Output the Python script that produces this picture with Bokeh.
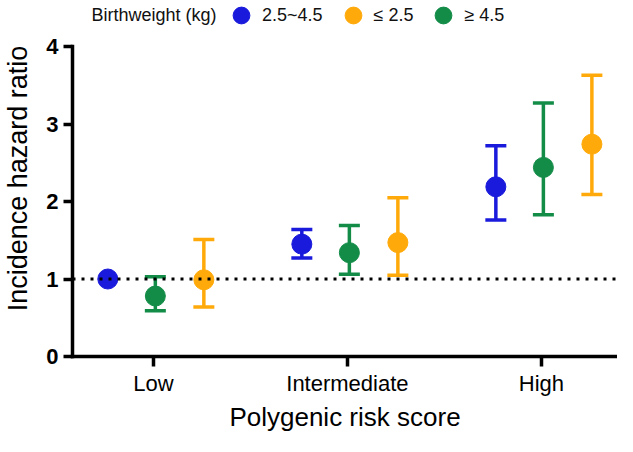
from bokeh.plotting import figure
from bokeh.models import (ColumnDataSource, Range1d, FixedTicker, Whisker, TeeHead,
                          Span, Legend, LegendItem, Label)
from bokeh.embed import file_html
from bokeh.resources import INLINE

# ---------------- data ----------------
categories = ["Low", "Intermediate", "High"]
series_names = ["2.5~4.5", "\u2264 2.5", "\u2265 4.5"]
legend_title = "Birthweight (kg)"

hr_normal = [1.0, 1.45, 2.19]
lo_normal = [float("nan"), 1.27, 1.76]
hi_normal = [float("nan"), 1.64, 2.72]

hr_low = [0.99, 1.47, 2.74]
lo_low = [0.64, 1.05, 2.09]
hi_low = [1.51, 2.05, 3.63]

hr_high = [0.78, 1.34, 2.44]
lo_high = [0.59, 1.06, 1.83]
hi_high = [1.03, 1.69, 3.27]

y_ticks = [0, 1, 2, 3, 4]
y_axis_bounds = (0, 4)
reference_hr = 1

# ---------------- styling ----------------
FONT = "Liberation Sans"
colors = {"normal": "#1A1ADC", "low": "#FFAA0A", "high": "#138C48"}
offsets = {"normal": -0.235, "high": 0.01, "low": 0.26}

p = figure(width=617, height=436, output_backend="svg", toolbar_location=None,
           x_range=Range1d(-0.417, 2.392), y_range=Range1d(0, 4.594),
           min_border_left=65, min_border_right=0, min_border_top=0,
           min_border_bottom=80)
p.outline_line_color = None
p.xgrid.visible = False
p.ygrid.visible = False
p.background_fill_color = "white"
p.border_fill_color = "white"

# reference line
p.add_layout(Span(location=reference_hr, dimension="width", line_color="black",
                  line_width=3, line_dash="3 6"))

series = [
    ("normal", hr_normal, lo_normal, hi_normal),
    ("high", hr_high, lo_high, hi_high),
    ("low", hr_low, lo_low, hi_low),
]
renderers = {}
for key, hr, lo, hi in series:
    xs = [i + offsets[key] for i in range(len(categories))]
    src = ColumnDataSource(dict(x=xs, y=hr, lower=lo, upper=hi))
    c = colors[key]
    w = Whisker(source=src, base="x", lower="lower", upper="upper",
                line_color=c, line_width=3.5,
                upper_head=TeeHead(size=21, line_color=c, line_width=3.5),
                lower_head=TeeHead(size=21, line_color=c, line_width=3.5))
    p.add_layout(w)
    r = p.scatter("x", "y", source=src, size=20, marker="circle",
                  fill_color=c, line_color=c)
    renderers[key] = r

legend = Legend(items=[
    LegendItem(label=series_names[0], renderers=[renderers["normal"]]),
    LegendItem(label=series_names[1], renderers=[renderers["low"]]),
    LegendItem(label=series_names[2], renderers=[renderers["high"]]),
], orientation="horizontal", location=(148, 320), glyph_width=42, glyph_height=42,
    label_standoff=-6, spacing=9, padding=0, margin=0,
    border_line_color=None, background_fill_alpha=0,
    label_text_font=FONT, label_text_font_size="18px", label_text_color="#111111")
p.add_layout(legend, "center")

p.add_layout(Label(x=19, y=342, x_units="screen", y_units="screen", text=legend_title,
                   text_font=FONT, text_font_size="18px", text_color="#111111",
                   text_align="left", text_baseline="middle"))

# axes
xa = p.xaxis[0]
xa.ticker = FixedTicker(ticks=list(range(len(categories))))
xa.major_label_overrides = {i: c for i, c in enumerate(categories)}
xa.axis_label = "Polygenic risk score"
ya = p.yaxis[0]
ya.ticker = FixedTicker(ticks=y_ticks)
ya.bounds = y_axis_bounds
ya.axis_label = "Incidence hazard ratio"

for ax in (xa, ya):
    ax.axis_line_width = 3.5
    ax.axis_line_color = "black"
    ax.axis_line_cap = "square"
    ax.major_tick_line_width = 3.5
    ax.major_tick_line_color = "black"
    ax.major_tick_in = 0
    ax.minor_tick_line_color = None
    ax.major_label_text_font = FONT
    ax.major_label_text_color = "black"
    ax.axis_label_text_font = FONT
    ax.axis_label_text_font_style = "normal"
    ax.axis_label_text_color = "black"

xa.major_tick_out = 10
xa.major_label_text_font_size = "22px"
xa.major_label_standoff = 4
xa.axis_label_text_font_size = "26px"
xa.axis_label_standoff = 3

ya.major_tick_out = 9
ya.major_label_text_font_size = "22px"
ya.major_label_text_font_style = "bold"
ya.major_label_standoff = 5
ya.axis_label_text_font_size = "27px"
ya.axis_label_standoff = 10

open("out.html", "w").write(file_html(p, INLINE))
